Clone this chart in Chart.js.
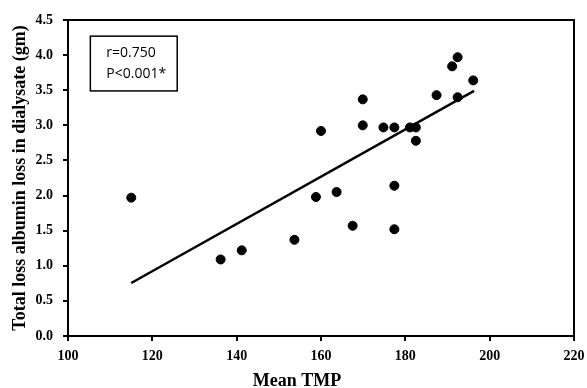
<!DOCTYPE html>
<html>
<head>
<meta charset="utf-8">
<script src="https://cdn.jsdelivr.net/npm/chart.js@4.4.1/dist/chart.umd.min.js"></script>
<style>
html,body{margin:0;padding:0;background:#fff;}
#wrap{width:587px;height:388px;position:relative;}
</style>
</head>
<body>
<div id="wrap"><canvas id="c" width="587" height="388"></canvas></div>
<script>
// Data
const meanTMP = [115, 136.2, 141.2, 153.7, 158.8, 160, 163.7, 167.5, 169.9, 169.9, 174.8, 177.4, 177.4, 177.4, 181.1, 182.5, 182.5, 187.4, 191.1, 192.4, 192.4, 196.1];
const albuminLoss = [1.97, 1.09, 1.22, 1.37, 1.98, 2.92, 2.05, 1.57, 3.37, 3.0, 2.97, 2.97, 2.14, 1.52, 2.97, 2.97, 2.78, 3.43, 3.84, 3.97, 3.40, 3.64];
const trendX = [115, 196.3];
const trendY = [0.755, 3.49];
const xTicks = [100, 120, 140, 160, 180, 200, 220];
const yTicks = [0.0, 0.5, 1.0, 1.5, 2.0, 2.5, 3.0, 3.5, 4.0, 4.5];
const xTitle = 'Mean TMP';
const yTitle = 'Total loss albumin loss in dialysate (gm)';
const annotationLines = ['r=0.750', 'P<0.001*'];
const annotationBox = {x0: 105.3, x1: 125.9, y0: 4.27, y1: 3.49};

const points = meanTMP.map((x, i) => ({x: x, y: albuminLoss[i]}));
const trend = trendX.map((x, i) => ({x: x, y: trendY[i]}));
const serif = '"Liberation Serif", "Times New Roman", serif';

const frame = {
  id: 'frame',
  afterDraw(chart) {
    const {ctx, chartArea: a, scales} = chart;
    ctx.save();
    ctx.strokeStyle = '#000';
    ctx.lineWidth = 2;
    ctx.strokeRect(a.left, a.top, a.right - a.left, a.bottom - a.top);
    // annotation box
    const bx0 = scales.x.getPixelForValue(annotationBox.x0);
    const bx1 = scales.x.getPixelForValue(annotationBox.x1);
    const by0 = scales.y.getPixelForValue(annotationBox.y0);
    const by1 = scales.y.getPixelForValue(annotationBox.y1);
    ctx.lineWidth = 1.5;
    ctx.strokeRect(bx0, by0, bx1 - bx0, by1 - by0);
    ctx.fillStyle = '#000';
    ctx.font = '14px "Open Sans", "Noto Sans", sans-serif';
    ctx.textBaseline = 'middle';
    ctx.textAlign = 'left';
    const h = by1 - by0;
    annotationLines.forEach((t, i) => {
      ctx.fillText(t, bx0 + 16, by0 + h * (0.31 + 0.38 * i));
    });
    // x axis title (sits slightly left of centre in the reference)
    ctx.font = 'bold 18px ' + serif;
    ctx.textAlign = 'center';
    ctx.textBaseline = 'middle';
    ctx.fillText(xTitle, (a.left + a.right) / 2 - 24, a.bottom + 45);
    ctx.restore();
  }
};

new Chart(document.getElementById('c'), {
  type: 'scatter',
  data: {
    datasets: [
      {
        label: 'Data',
        data: points,
        backgroundColor: '#000',
        borderColor: '#000',
        pointRadius: 4.5,
        pointHoverRadius: 4.5,
        order: 1
      },
      {
        label: 'Trend',
        type: 'line',
        data: trend,
        borderColor: '#000',
        borderWidth: 2.5,
        pointRadius: 0,
        fill: false,
        order: 2
      }
    ]
  },
  options: {
    responsive: false,
    animation: false,
    events: [],
    layout: {padding: {left: 0, top: 20, right: 13, bottom: 0}},
    plugins: {legend: {display: false}, tooltip: {enabled: false}},
    scales: {
      x: {
        type: 'linear',
        min: 100, max: 220,
        afterBuildTicks(s) { s.ticks = xTicks.map(v => ({value: v})); },
        afterFit(s) { s.height = 52; s.paddingLeft = 0; s.paddingRight = 0; },
        grid: {display: true, drawOnChartArea: false, drawTicks: true, tickLength: 5, color: '#000', lineWidth: 2},
        border: {display: true, color: '#000', width: 2},
        ticks: {
          color: '#000',
          padding: 7,
          font: {family: serif, size: 14, weight: 'bold'},
          callback: v => String(v)
        },
        title: {display: false}
      },
      y: {
        type: 'linear',
        min: 0, max: 4.5,
        afterBuildTicks(s) { s.ticks = yTicks.map(v => ({value: v})); },
        afterFit(s) { s.width = 68; s.paddingTop = 0; s.paddingBottom = 0; },
        grid: {display: true, drawOnChartArea: false, drawTicks: true, tickLength: 5, color: '#000', lineWidth: 2},
        border: {display: true, color: '#000', width: 2},
        ticks: {
          color: '#000',
          padding: 10,
          font: {family: serif, size: 14, weight: 'bold'},
          callback: v => Number(v).toFixed(1)
        },
        title: {
          display: true,
          text: yTitle,
          color: '#000',
          padding: {top: 10, bottom: 0},
          font: {family: serif, size: 18, weight: 'bold'}
        }
      }
    }
  },
  plugins: [frame]
});
</script>
</body>
</html>
